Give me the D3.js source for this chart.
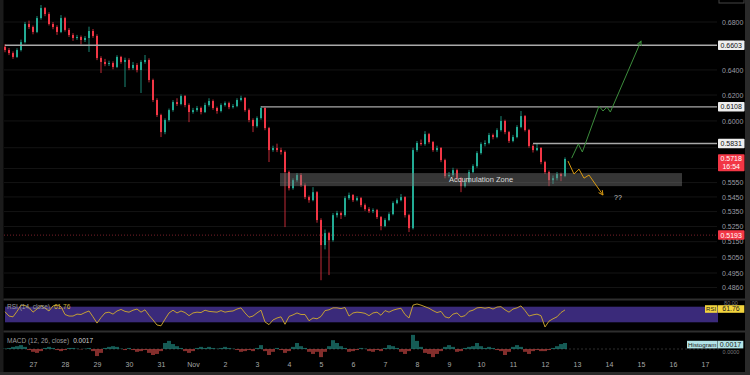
<!DOCTYPE html>
<html>
<head>
<meta charset="utf-8">
<script src="https://cdn.jsdelivr.net/npm/d3@7"></script>
<style>
html, body { margin: 0; padding: 0; background: #000; }
svg { display: block; font-family: "Liberation Sans", Arial, sans-serif; }
</style>
</head>
<body>
<svg id="chart" width="750" height="375"></svg>
<script>
// 3h candles, starting Oct 26 03:00
var firstTime = new Date(2023, 9, 26, 3);
var firstOpen = 0.6590;
var closes = [
  0.6563,0.6538,0.6506,0.6563,0.6629,0.6783,0.6757,0.6715,0.6834,0.6921,
  0.6869,0.6783,0.6757,0.6715,0.6834,0.6732,0.6689,0.6664,0.6672,0.6647,
  0.6664,0.6723,0.6681,0.6497,0.6465,0.6448,0.6456,0.6424,0.6506,0.6465,
  0.6481,0.6415,0.6440,0.6399,0.6465,0.6481,0.6319,0.6161,0.6045,0.5916,
  0.6007,0.6083,0.6145,0.6130,0.6192,0.6122,0.6068,0.6083,0.6099,0.6068,
  0.6122,0.6153,0.6099,0.6076,0.6122,0.6137,0.6106,0.6114,0.6161,0.6177,
  0.6083,0.6007,0.5961,0.6022,0.6099,0.5946,0.5783,0.5798,0.5783,0.5769,
  0.5624,0.5511,0.5567,0.5603,0.5532,0.5449,0.5428,0.5483,0.5293,0.5128,
  0.5206,0.5160,0.5326,0.5340,0.5326,0.5442,0.5463,0.5428,0.5442,0.5394,
  0.5367,0.5353,0.5360,0.5313,0.5253,0.5293,0.5333,0.5408,0.5428,0.5449,
  0.5326,0.5239,0.5783,0.5835,0.5827,0.5901,0.5842,0.5783,0.5798,0.5710,
  0.5596,0.5603,0.5638,0.5581,0.5525,0.5553,0.5624,0.5667,0.5761,0.5827,
  0.5835,0.5894,0.5879,0.5931,0.6000,0.5916,0.5850,0.5879,0.5954,0.6037,
  0.5931,0.5813,0.5783,0.5798,0.5696,0.5624,0.5567,0.5581,0.5610,0.5596,
  0.5718
];
var highs = [
  0.6612,0.6580,0.6552,0.6578,0.6650,0.6801,0.6812,0.6770,0.6852,0.6948,
  0.6930,0.6885,0.6800,0.6772,0.6860,0.6845,0.6748,0.6705,0.6690,0.6685,
  0.6680,0.6760,0.6740,0.6695,0.6512,0.6490,0.6475,0.6470,0.6520,0.6515,
  0.6500,0.6495,0.6465,0.6455,0.6480,0.6522,0.6495,0.6330,0.6175,0.6055,
  0.6020,0.6095,0.6160,0.6175,0.6205,0.6200,0.6135,0.6100,0.6115,0.6110,
  0.6140,0.6175,0.6165,0.6110,0.6135,0.6150,0.6148,0.6130,0.6175,0.6195,
  0.6185,0.6095,0.6020,0.6035,0.6114,0.6105,0.5955,0.5815,0.5830,0.5800,
  0.5780,0.5635,0.5580,0.5617,0.5617,0.5545,0.5460,0.5518,0.5490,0.5305,
  0.5230,0.5215,0.5340,0.5355,0.5350,0.5455,0.5480,0.5470,0.5455,0.5450,
  0.5405,0.5380,0.5372,0.5368,0.5320,0.5305,0.5345,0.5420,0.5440,0.5470,
  0.5455,0.5335,0.5800,0.5850,0.5860,0.5923,0.5910,0.5850,0.5815,0.5805,
  0.5720,0.5625,0.5655,0.5648,0.5590,0.5570,0.5640,0.5680,0.5775,0.5840,
  0.5855,0.5910,0.5905,0.5945,0.6037,0.6010,0.5925,0.5895,0.5968,0.6076,
  0.6045,0.5940,0.5825,0.5831,0.5805,0.5705,0.5635,0.5600,0.5625,0.5620,
  0.5730
];
var lows = [
  0.6545,0.6521,0.6490,0.6498,0.6551,0.6618,0.6740,0.6695,0.6705,0.6820,
  0.6850,0.6770,0.6738,0.6690,0.6705,0.6718,0.6672,0.6640,0.6648,0.6610,
  0.6630,0.6547,0.6665,0.6480,0.6375,0.6430,0.6432,0.6405,0.6415,0.6450,
  0.6263,0.6398,0.6400,0.6380,0.6216,0.6450,0.6300,0.6145,0.6030,0.5879,
  0.5900,0.5995,0.6070,0.6115,0.6120,0.6105,0.5991,0.6055,0.6070,0.6050,
  0.6060,0.6110,0.6085,0.6055,0.6065,0.6110,0.6090,0.6095,0.6105,0.6150,
  0.6070,0.5990,0.5916,0.5950,0.6010,0.5930,0.5696,0.5770,0.5768,0.5750,
  0.5246,0.5495,0.5500,0.5555,0.5520,0.5435,0.5410,0.5420,0.5275,0.4905,
  0.5100,0.4937,0.5150,0.5310,0.5300,0.5315,0.5430,0.5415,0.5420,0.5380,
  0.5355,0.5340,0.5340,0.5300,0.5225,0.5245,0.5285,0.5325,0.5400,0.5420,
  0.5310,0.5213,0.5230,0.5770,0.5815,0.5815,0.5830,0.5770,0.5770,0.5695,
  0.5580,0.5585,0.5590,0.5565,0.5483,0.5515,0.5545,0.5615,0.5655,0.5750,
  0.5810,0.5825,0.5862,0.5870,0.5920,0.5900,0.5835,0.5840,0.5870,0.5945,
  0.5920,0.5800,0.5765,0.5775,0.5680,0.5610,0.5525,0.5540,0.5565,0.5560,
  0.5588
];
var rsiValues = [
  57,46,44,58,74,73,68,56,64,73,
  66,59,72,74,70,50,46,46,51,50,
  55,59,44,28,42,54,56,51,59,63,
  58,56,61,64,56,62,48,36,23,21,
  38,54,61,54,59,55,47,54,56,55,
  61,58,57,56,60,56,58,59,64,67,
  54,43,46,54,61,31,24,36,41,44,
  25,45,49,54,50,50,34,41,39,45,
  60,62,67,67,65,68,46,54,56,55,
  53,47,54,56,48,60,56,61,64,66,
  50,41,74,77,74,70,66,60,55,58,
  44,41,51,54,44,47,58,61,67,68,
  66,68,64,69,70,62,56,64,67,72,
  60,46,49,51,47,18,33,39,44,55,
  61.76
];
var macdHist = [
  0.0001,0.0003,0.0006,0.0008,0.0011,0.0006,-0.0003,-0.0008,-0.0011,-0.0006,
  0.0003,0.0006,0.0003,-0.0003,-0.0006,-0.0003,0.0003,0.0003,0.0001,-0.0001,
  0.0001,0.0003,-0.0006,-0.0020,-0.0011,0.0003,0.0006,0.0008,0.0006,0.0001,
  -0.0003,0.0003,-0.0003,-0.0008,-0.0006,-0.0003,-0.0011,-0.0017,-0.0014,-0.0006,
  0.0017,0.0023,0.0014,0.0008,0.0003,-0.0006,-0.0011,-0.0006,0.0003,0.0006,
  0.0003,0.0006,0.0003,0.0001,0.0003,0.0006,0.0003,0.0001,-0.0003,-0.0008,
  -0.0006,-0.0003,-0.0006,0.0003,0.0011,-0.0006,-0.0017,-0.0008,0.0003,-0.0003,
  -0.0011,-0.0006,0.0006,0.0017,0.0008,0.0003,-0.0008,-0.0014,-0.0008,-0.0023,
  -0.0008,0.0008,0.0025,0.0017,0.0008,0.0003,-0.0008,-0.0006,-0.0003,0.0003,
  0.0001,-0.0006,-0.0008,-0.0003,-0.0006,0.0003,0.0011,0.0008,0.0003,-0.0008,
  -0.0014,-0.0006,0.0040,0.0023,0.0006,-0.0011,-0.0014,-0.0023,-0.0014,-0.0006,
  0.0006,0.0011,0.0006,-0.0008,-0.0006,0.0003,0.0006,0.0008,0.0017,0.0008,
  0.0003,0.0006,0.0003,-0.0003,-0.0006,-0.0017,-0.0008,0.0006,0.0011,0.0006,
  -0.0008,-0.0014,-0.0006,-0.0003,-0.0006,-0.0006,-0.0003,0.0003,0.0008,0.0014,
  0.0017
];
var priceTicks = [0.6800, 0.6600, 0.6400, 0.6200, 0.6000, 0.5800, 0.5650, 0.5550, 0.5450, 0.5350, 0.5250, 0.5150, 0.5050, 0.4950, 0.4860];

// horizontal levels
var levelPrices = [0.6603, 0.6108, 0.5831];
var levelStarts = [new Date(2023, 9, 26, 3), new Date(2023, 10, 3, 3), new Date(2023, 10, 11, 15)];
var lowMark = 0.5193;
var lastPrice = 0.5718;
var countdown = "16:54";
var rsiLast = 61.76;
var histLast = 0.0017;

// accumulation zone
var zoneStart = new Date(2023, 10, 3, 17, 15);
var zoneEnd = new Date(2023, 10, 16, 6, 45);
var zoneTop = 0.5617;
var zoneBottom = 0.5525;

// projected paths
var bullTimes = [new Date(2023,10,12,20), new Date(2023,10,13,1), new Date(2023,10,13,4), new Date(2023,10,13,16,30),
  new Date(2023,10,13,19,30), new Date(2023,10,13,22,30), new Date(2023,10,14,1), new Date(2023,10,15,0)];
var bullPrices = [0.5724, 0.5828, 0.5769, 0.6114, 0.6076, 0.6106, 0.6068, 0.6638];
var bearTimes = [new Date(2023,10,12,17,15), new Date(2023,10,12,21,45), new Date(2023,10,13,1,30),
  new Date(2023,10,13,5,15), new Date(2023,10,13,9), new Date(2023,10,13,19,30)];
var bearPrices = [0.5703, 0.5610, 0.5645, 0.5581, 0.5603, 0.5463];

var svg = d3.select("#chart");
var plotLeft = 4, plotRight = 717, mainBottom = 297;
var up = "#22ab94", down = "#f23645";

var x = d3.scaleTime().domain([new Date(2023, 9, 26), new Date(2023, 10, 17)]).range([1, 705]);
var y = d3.scaleLog().domain([0.6992, 0.4802]).range([0, mainBottom]);
var rsiY = d3.scaleLinear().domain([30, 70]).range([322.3, 306.7]);
var macdY = d3.scaleLinear().domain([0, 0.0017]).range([349, 343]);

var candles = closes.map(function(c, i) {
    return {
        date: d3.timeHour.offset(firstTime, 3 * i),
        open: i ? closes[i - 1] : firstOpen,
        high: highs[i], low: lows[i], close: c
    };
});

svg.append("defs").append("clipPath").attr("id", "mainClip")
    .append("rect").attr("x", plotLeft).attr("y", 0)
    .attr("width", plotRight - plotLeft).attr("height", mainBottom);

var arrowColors = {bull: "#3c8d3c", bear: "#d99a12"};
Object.keys(arrowColors).forEach(function(k) {
    svg.select("defs").append("marker").attr("id", "arrow-" + k)
        .attr("viewBox", "0 0 8 8").attr("refX", 7).attr("refY", 4)
        .attr("markerWidth", 6).attr("markerHeight", 6).attr("orient", "auto")
        .append("path").attr("d", "M1,1 L7,4 L1,7").attr("fill", "none")
        .attr("stroke", arrowColors[k]).attr("stroke-width", 1.2);
});

// frame strips
svg.append("rect").attr("x", 0).attr("y", 0).attr("width", 3.5).attr("height", 375).attr("fill", "#1b1b1b");
svg.append("rect").attr("x", 745).attr("y", 0).attr("width", 5).attr("height", 375).attr("fill", "#2a2a2a");
svg.append("rect").attr("x", 0).attr("y", 372).attr("width", 750).attr("height", 3).attr("fill", "#2a2a2a");
svg.append("rect").attr("x", 719).attr("y", -3).attr("width", 25).attr("height", 6)
    .attr("fill", "none").attr("stroke", "#444");

// main pane
var main = svg.append("g").attr("clip-path", "url(#mainClip)");

main.selectAll(".grid").data(priceTicks).enter().append("line")
    .attr("x1", plotLeft).attr("x2", plotRight)
    .attr("y1", function(d) { return y(d); }).attr("y2", function(d) { return y(d); })
    .attr("stroke", "#141414").attr("stroke-width", 1);

main.append("line").attr("x1", plotLeft).attr("x2", plotRight)
    .attr("y1", y(lowMark)).attr("y2", y(lowMark))
    .attr("stroke", "#7a1f2a").attr("stroke-width", 1).attr("stroke-dasharray", "1,2");

var bodyW = 2.0;
var cg = main.append("g").selectAll("g").data(candles).enter().append("g")
    .attr("fill", function(d) { return d.close >= d.open ? up : down; })
    .attr("stroke", function(d) { return d.close >= d.open ? up : down; });
cg.append("line")
    .attr("x1", function(d) { return x(d.date); }).attr("x2", function(d) { return x(d.date); })
    .attr("y1", function(d) { return y(d.high); }).attr("y2", function(d) { return y(d.low); })
    .attr("stroke-width", 0.8);
cg.append("rect")
    .attr("x", function(d) { return x(d.date) - bodyW / 2; })
    .attr("y", function(d) { return y(Math.max(d.open, d.close)); })
    .attr("width", bodyW)
    .attr("height", function(d) { return Math.max(0.8, Math.abs(y(d.open) - y(d.close))); })
    .attr("stroke", "none");

main.selectAll(".level").data(levelPrices).enter().append("line")
    .attr("x1", function(d, i) { return Math.max(plotLeft, x(levelStarts[i])); })
    .attr("x2", plotRight)
    .attr("y1", function(d) { return y(d); }).attr("y2", function(d) { return y(d); })
    .attr("stroke", "#a9a9a9").attr("stroke-width", 1.4);

main.append("rect")
    .attr("x", x(zoneStart)).attr("y", y(zoneTop))
    .attr("width", x(zoneEnd) - x(zoneStart)).attr("height", y(zoneBottom) - y(zoneTop))
    .attr("fill", "#7a7a7a").attr("fill-opacity", 0.44);
main.append("text")
    .attr("x", x(new Date((zoneStart.getTime() + zoneEnd.getTime()) / 2)))
    .attr("y", (y(zoneTop) + y(zoneBottom)) / 2 + 2.6)
    .attr("text-anchor", "middle").attr("font-size", 7.5).attr("fill", "#dcdcdc")
    .text("Accumulation Zone");

var line = d3.line().x(function(d) { return x(d[0]); }).y(function(d) { return y(d[1]); });
main.append("path").datum(d3.zip(bullTimes, bullPrices)).attr("d", line)
    .attr("fill", "none").attr("stroke", arrowColors.bull).attr("stroke-width", 1)
    .attr("marker-end", "url(#arrow-bull)");
main.append("path").datum(d3.zip(bearTimes, bearPrices)).attr("d", line)
    .attr("fill", "none").attr("stroke", arrowColors.bear).attr("stroke-width", 1)
    .attr("marker-end", "url(#arrow-bear)");
main.append("text")
    .attr("x", x(new Date(2023, 10, 14, 6, 45))).attr("y", y(0.5449) + 2.5)
    .attr("text-anchor", "middle").attr("font-size", 7).attr("fill", "#cfcfcf").text("??");

// price axis: labels that sit under a tag are left out, as they are hidden there
var tagPrices = levelPrices.concat([lastPrice, lowMark]);
var shownTicks = priceTicks.filter(function(t) {
    return tagPrices.every(function(p) {
        var d = y(t) - y(p);
        return p === lastPrice ? (d < -6 || d > 12) : Math.abs(d) > 6;
    });
});
var priceAxis = svg.append("g").attr("transform", "translate(720,0)")
    .call(d3.axisRight(y).tickValues(shownTicks).tickFormat(d3.format(".4f")).tickSize(0).tickPadding(2));
priceAxis.select(".domain").remove();
priceAxis.selectAll("text").attr("font-size", 7).attr("fill", "#9a9ca3").attr("font-family", null);

function priceTag(yc, lines, fill, color) {
    var h = lines.length * 7.5 + 2;
    var g = svg.append("g");
    g.append("rect").attr("x", 718).attr("y", yc - 4.8).attr("width", 26.5).attr("height", h)
        .attr("fill", fill).attr("rx", 0.8);
    lines.forEach(function(t, i) {
        g.append("text").attr("x", 731.2).attr("y", yc + 2.5 + i * 7.5)
            .attr("text-anchor", "middle").attr("font-size", 7).attr("fill", color).text(t);
    });
}
levelPrices.forEach(function(p) { priceTag(y(p), [d3.format(".4f")(p)], "#eeeeee", "#111"); });
priceTag(y(lastPrice), [d3.format(".4f")(lastPrice), countdown], down, "#fff");
priceTag(y(lowMark), [d3.format(".4f")(lowMark)], down, "#fff");

// pane separators
[299.5, 331.5].forEach(function(yy) {
    svg.append("line").attr("x1", 3.5).attr("x2", 745).attr("y1", yy).attr("y2", yy)
        .attr("stroke", "#2e2e2e").attr("stroke-width", 2);
});

// RSI pane
svg.append("rect").attr("x", plotLeft + 1).attr("y", rsiY(70))
    .attr("width", 718 - plotLeft - 1).attr("height", rsiY(30) - rsiY(70))
    .attr("fill", "#3a2a7a");
svg.append("path").datum(candles)
    .attr("d", d3.line().x(function(d) { return x(d.date); })
        .y(function(d, i) { return rsiY(rsiValues[i]); }))
    .attr("fill", "none").attr("stroke", "#d2ac2e").attr("stroke-width", 0.9);
var rsiTitle = svg.append("text").attr("x", 7).attr("y", 309).attr("font-size", 6.5);
rsiTitle.append("tspan").attr("fill", "#9a9a9a").text("RSI (14, close)");
rsiTitle.append("tspan").attr("dx", 4).attr("fill", "#d4b13a").text(d3.format(".2f")(rsiLast));

svg.append("text").attr("x", 731).attr("y", 304.6).attr("text-anchor", "middle")
    .attr("font-size", 5.5).attr("fill", "#777").text("80.00");
svg.append("rect").attr("x", 705).attr("y", 305.2).attr("width", 12.3).attr("height", 7.6).attr("fill", "#f2d43d");
svg.append("rect").attr("x", 717.8).attr("y", 305.2).attr("width", 26.5).attr("height", 7.6).attr("fill", "#f2d43d");
svg.append("text").attr("x", 711.1).attr("y", 311.3).attr("text-anchor", "middle")
    .attr("font-size", 6).attr("fill", "#222").text("RSI");
svg.append("text").attr("x", 731).attr("y", 311.4).attr("text-anchor", "middle")
    .attr("font-size", 7).attr("fill", "#222").text(d3.format(".2f")(rsiLast));

// MACD pane
svg.append("line").attr("x1", plotLeft + 1).attr("x2", 720)
    .attr("y1", macdY(0)).attr("y2", macdY(0))
    .attr("stroke", "#3a3a3a").attr("stroke-width", 0.8).attr("stroke-dasharray", "2,2");
svg.append("g").selectAll("rect").data(candles).enter().append("rect")
    .attr("x", function(d) { return x(d.date) - 2; })
    .attr("width", 4)
    .attr("y", function(d, i) { return Math.min(macdY(0), macdY(macdHist[i])); })
    .attr("height", function(d, i) { return Math.abs(macdY(macdHist[i]) - macdY(0)); })
    .attr("fill", function(d, i) { return macdHist[i] >= 0 ? "#26a69a" : "#ef5350"; })
    .attr("fill-opacity", 0.55);
var macdTitle = svg.append("text").attr("x", 7).attr("y", 342.5).attr("font-size", 6.5);
macdTitle.append("tspan").attr("fill", "#9a9a9a").text("MACD (12, 26, close)");
macdTitle.append("tspan").attr("dx", 4).attr("fill", "#d0d0d0").text(d3.format(".4f")(histLast));

svg.append("text").attr("x", 731).attr("y", 353.5).attr("text-anchor", "middle")
    .attr("font-size", 5.5).attr("fill", "#777").text("0.0000");
svg.append("rect").attr("x", 687).attr("y", 340.8).attr("width", 30.5).attr("height", 7.6).attr("fill", "#b2e3e6");
svg.append("rect").attr("x", 717.8).attr("y", 340.8).attr("width", 25.5).attr("height", 7.6).attr("fill", "#b2e3e6");
svg.append("text").attr("x", 702.2).attr("y", 346.9).attr("text-anchor", "middle")
    .attr("font-size", 6.2).attr("fill", "#222").text("Histogram");
svg.append("text").attr("x", 730.5).attr("y", 347).attr("text-anchor", "middle")
    .attr("font-size", 7).attr("fill", "#222").text(d3.format(".4f")(histLast));

// time axis
var dayTicks = d3.timeDay.range(new Date(2023, 9, 27), new Date(2023, 10, 18));
var timeAxis = svg.append("g").attr("transform", "translate(0,357)")
    .call(d3.axisBottom(x).tickValues(dayTicks).tickSize(0).tickPadding(5)
        .tickFormat(function(d) { return d.getDate() === 1 ? d3.timeFormat("%b")(d) : d.getDate(); }));
timeAxis.select(".domain").remove();
timeAxis.selectAll("text").attr("font-size", 7).attr("fill", "#a8a8a8").attr("font-family", null);
</script>
</body>
</html>
